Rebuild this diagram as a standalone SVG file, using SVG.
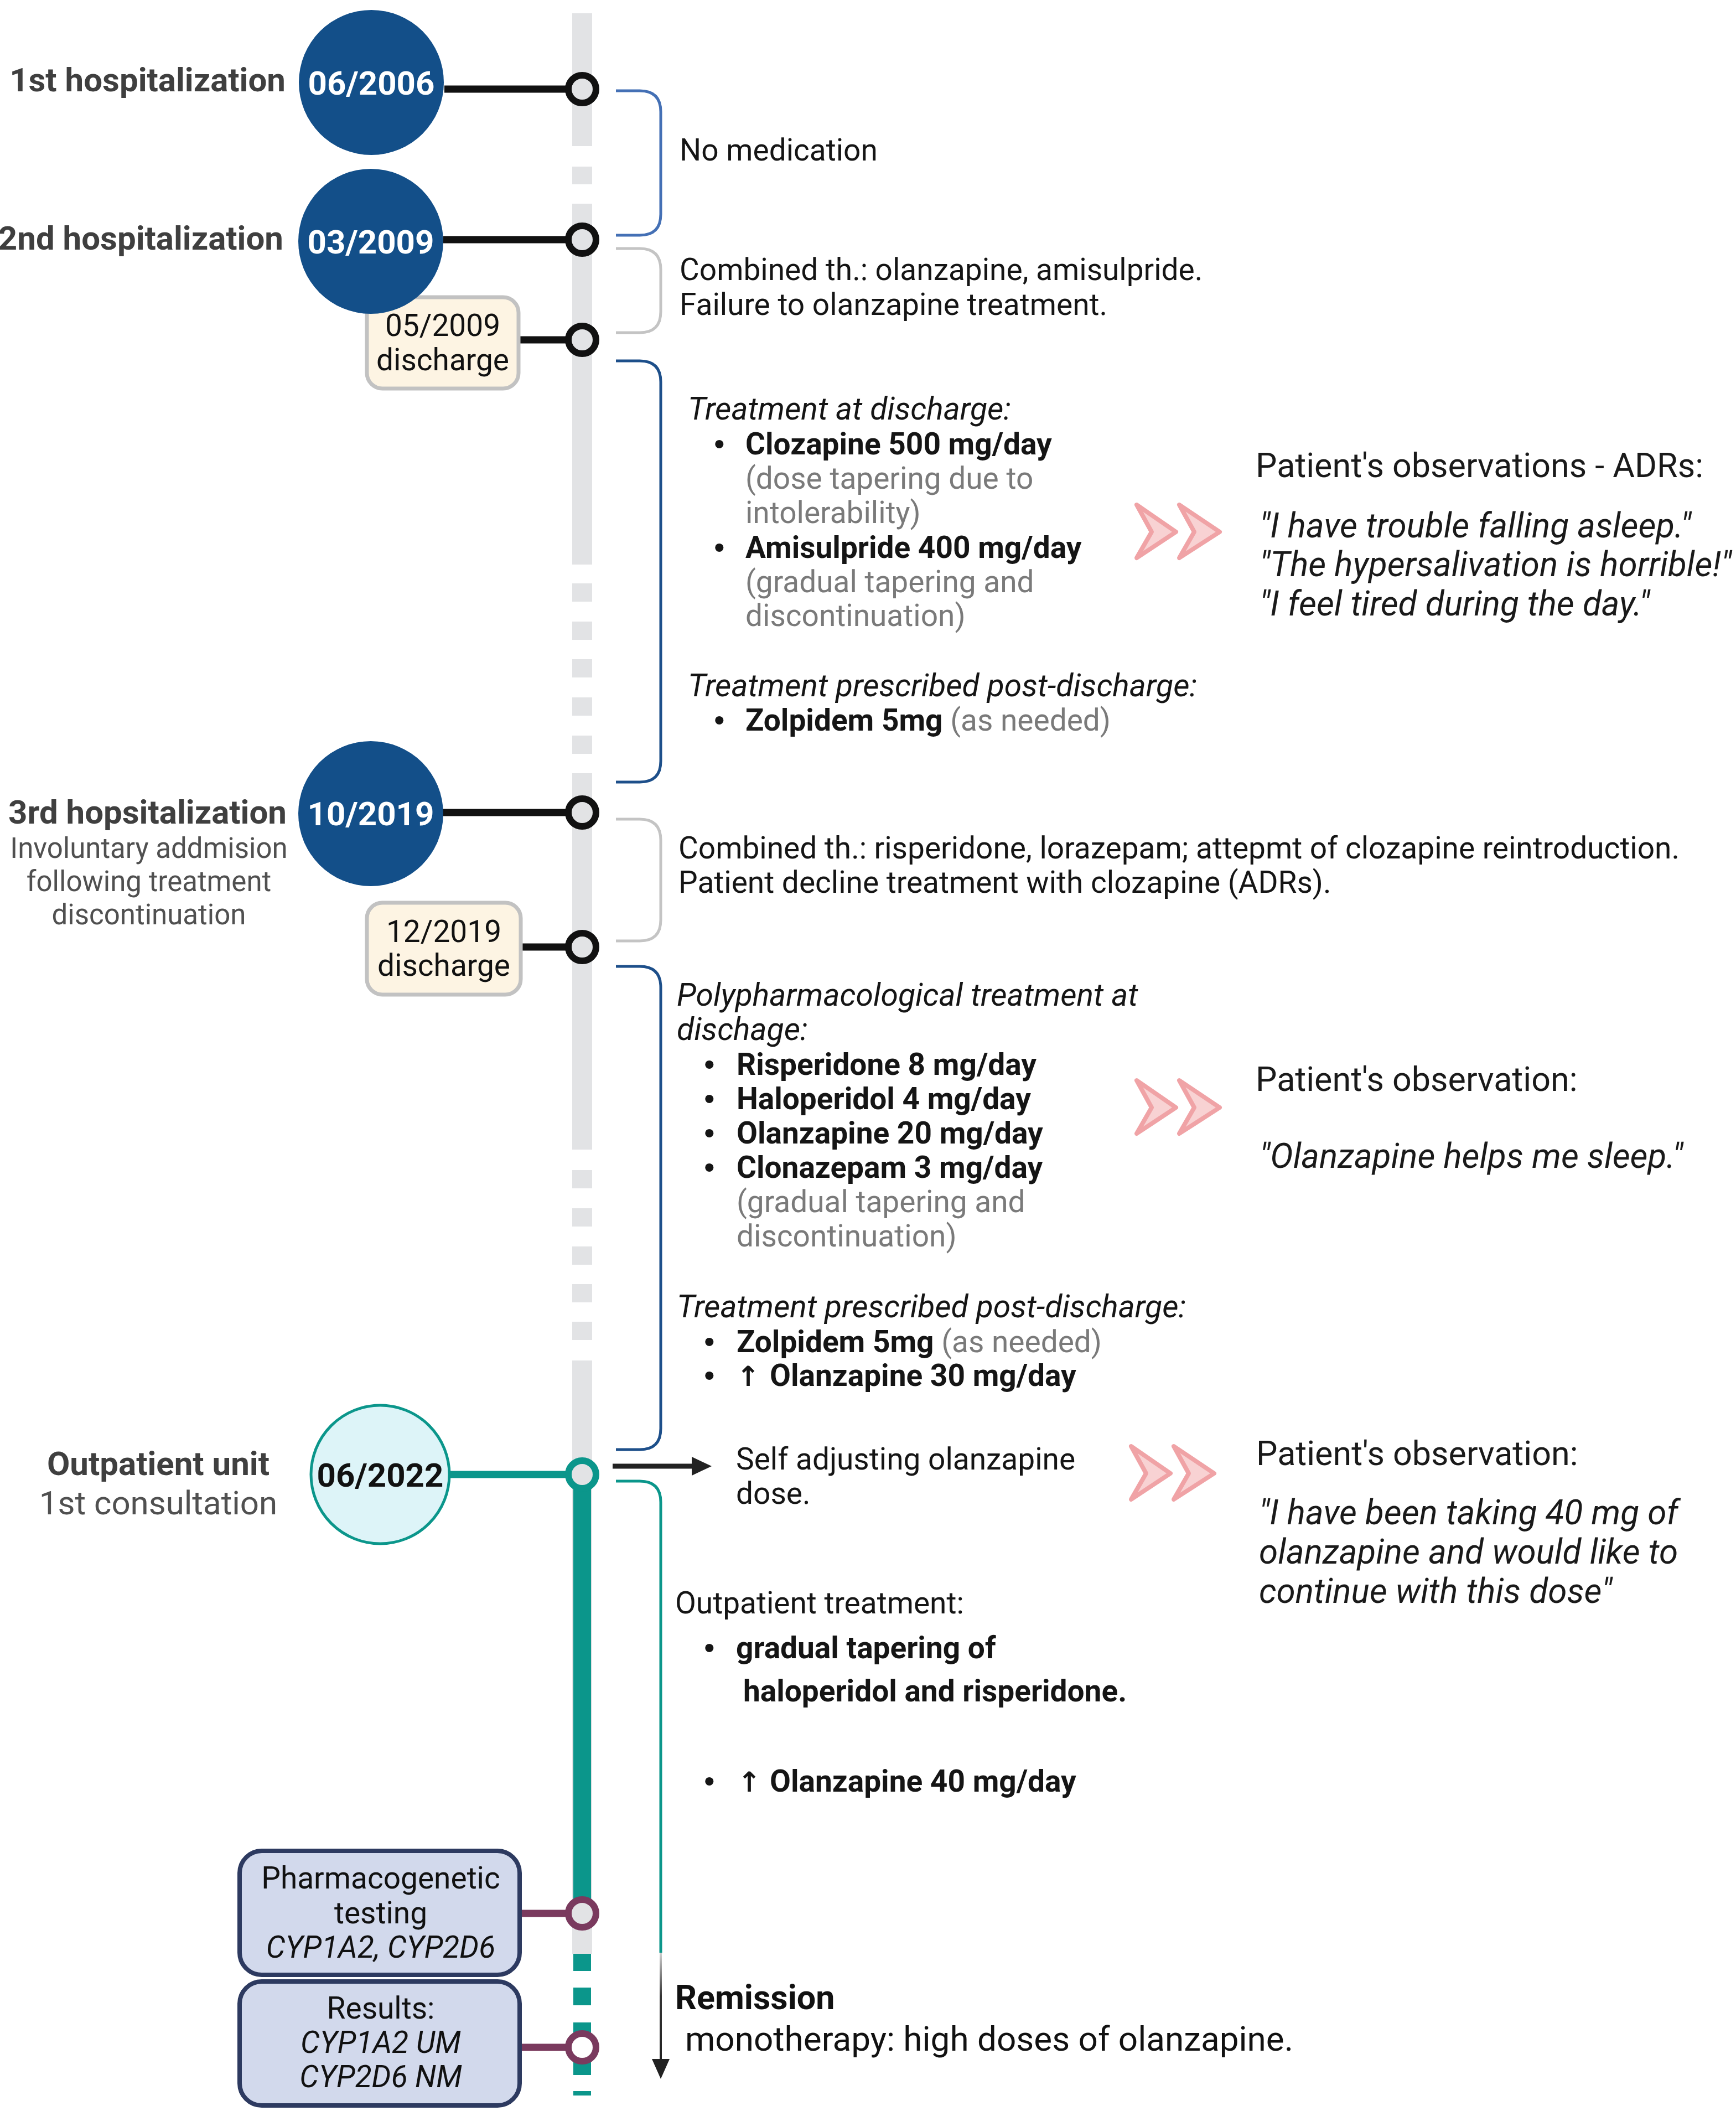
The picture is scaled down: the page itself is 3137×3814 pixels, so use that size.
<svg xmlns="http://www.w3.org/2000/svg" width="3137" height="3814" viewBox="0 0 3137 3814">
<style>
text{font-family:Roboto,"Liberation Sans","DejaVu Sans",sans-serif;}
.lbl{font-size:60px;font-weight:bold;fill:#3f3f3f;}
.sub{font-size:51px;fill:#505050;}
.date{font-size:60px;font-weight:bold;fill:#ffffff;text-anchor:middle;}
.dis{font-size:55px;fill:#111;text-anchor:middle;}
.t{font-size:55px;fill:#151515;}
.it{font-style:italic;font-size:57px;}
.b{font-weight:bold;}
.g{fill:#7a7a7a;font-weight:normal;}
.bul{font-family:"Liberation Sans",Arial,sans-serif;font-size:56px;fill:#151515;}
.ar{font-family:"DejaVu Sans",sans-serif;font-size:50px;font-weight:bold;fill:#151515;}
.obs{font-size:61px;fill:#1a1a1a;}
.q{font-size:62px;fill:#1a1a1a;font-style:italic;}
.box{font-size:55px;fill:#111;text-anchor:middle;}
.gl{fill:#e2e3e5;}
.tl{fill:#0b968b;}
.hc{stroke:#111;stroke-width:13;}
.node{fill:#e2e3e5;stroke:#111;stroke-width:12;}
.br{fill:none;stroke-width:5;}
.chev{fill:#f8d2d3;stroke:#f0a3a6;stroke-width:8;stroke-linejoin:round;}
</style>
<defs>
<g id="chev">
<path class="chev" d="M2054,-49 L2125,0 L2054,47 L2081,0 Z"/>
<path class="chev" d="M2131,-49 L2204,0 L2131,47 L2158,0 Z"/>
</g>
<linearGradient id="ag" x1="0" y1="0" x2="0" y2="1">
<stop offset="0" stop-color="#d0d0d0"/>
<stop offset="0.4" stop-color="#333"/>
<stop offset="1" stop-color="#222"/>
</linearGradient>
</defs>

<g id="timeline">
<rect class="gl" x="1034" y="24" width="36" height="240"/>
<rect class="gl" x="1034" y="301" width="36" height="32"/>
<rect class="gl" x="1034" y="368" width="36" height="652"/>
<rect class="gl" x="1034" y="1054" width="36" height="33"/>
<rect class="gl" x="1034" y="1123" width="36" height="33"/>
<rect class="gl" x="1034" y="1191" width="36" height="33"/>
<rect class="gl" x="1034" y="1260" width="36" height="33"/>
<rect class="gl" x="1034" y="1329" width="36" height="33"/>
<rect class="gl" x="1034" y="1397" width="36" height="680"/>
<rect class="gl" x="1034" y="2114" width="36" height="33"/>
<rect class="gl" x="1034" y="2183" width="36" height="33"/>
<rect class="gl" x="1034" y="2252" width="36" height="33"/>
<rect class="gl" x="1034" y="2320" width="36" height="33"/>
<rect class="gl" x="1034" y="2388" width="36" height="33"/>
<rect class="gl" x="1034" y="2458" width="36" height="1072"/>
<rect class="tl" x="1036" y="2666" width="32" height="790"/>
<rect class="tl" x="1036" y="3530" width="32" height="31"/>
<rect class="tl" x="1036" y="3591" width="32" height="32"/>
<rect class="tl" x="1036" y="3654" width="32" height="95"/>
<rect class="tl" x="1036" y="3778" width="32" height="8"/>
</g>

<g id="connectors">
<line class="hc" x1="803" y1="161" x2="1024" y2="161"/>
<line class="hc" x1="801" y1="433" x2="1024" y2="433"/>
<line class="hc" x1="937" y1="614" x2="1024" y2="614"/>
<line class="hc" x1="800" y1="1468" x2="1024" y2="1468"/>
<line class="hc" x1="941" y1="1711" x2="1024" y2="1711"/>
<line x1="812" y1="2664" x2="1024" y2="2664" stroke="#0b968b" stroke-width="13"/>
<line x1="941" y1="3457" x2="1024" y2="3457" stroke="#7a3a5e" stroke-width="13"/>
<line x1="941" y1="3699" x2="1024" y2="3699" stroke="#7a3a5e" stroke-width="13"/>
<path class="br" stroke="#4470b5" d="M1113,164 H1156 Q1194,164 1194,202 V387 Q1194,425 1156,425 H1113"/>
<path class="br" stroke="#c4c4c4" d="M1113,449 H1156 Q1194,449 1194,487 V563 Q1194,601 1156,601 H1113"/>
<path class="br" stroke="#1d4f8a" d="M1113,652 H1156 Q1194,652 1194,690 V1375 Q1194,1413 1156,1413 H1113"/>
<path class="br" stroke="#c4c4c4" d="M1113,1480 H1156 Q1194,1480 1194,1518 V1662 Q1194,1700 1156,1700 H1113"/>
<path class="br" stroke="#1d4f8a" d="M1113,1746 H1156 Q1194,1746 1194,1784 V2581 Q1194,2619 1156,2619 H1113"/>
<path class="br" stroke="#0b968b" stroke-width="4" d="M1113,2676 H1156 Q1194,2676 1194,2714 V3528"/>
<rect x="1192" y="3528" width="4" height="196" fill="url(#ag)"/>
<path d="M1178,3720 L1210,3720 L1194,3756 Z" fill="#222"/>
<line x1="1107" y1="2649" x2="1254" y2="2649" stroke="#222" stroke-width="9"/>
<path d="M1250,2632 L1286,2649 L1250,2666 Z" fill="#222"/>
</g>

<g id="node-circles">
<circle class="node" cx="1052" cy="161" r="25"/>
<circle class="node" cx="1052" cy="433" r="25"/>
<circle class="node" cx="1052" cy="614" r="25"/>
<circle class="node" cx="1052" cy="1468" r="25"/>
<circle class="node" cx="1052" cy="1711" r="25"/>
<circle cx="1052" cy="2664" r="25" fill="#e2e3e5" stroke="#0b968b" stroke-width="12"/>
<circle cx="1052" cy="3457" r="25" fill="#e2e3e5" stroke="#7a3a5e" stroke-width="12"/>
<circle cx="1052" cy="3699" r="25" fill="#ffffff" stroke="#7a3a5e" stroke-width="12"/>
</g>

<g id="discharge-2009">
<rect x="663" y="537" width="274" height="165" rx="28" fill="#fdf4e3" stroke="#c2c2c2" stroke-width="7"/>
<text class="dis" x="800" y="607">05/2009</text>
<text class="dis" x="800" y="669">discharge</text>
</g>

<g id="hosp1">
<text class="lbl" x="516" y="165" text-anchor="end">1st hospitalization</text>
<circle cx="671" cy="149" r="131" fill="#134f89"/>
<text class="date" x="671" y="171">06/2006</text>
</g>

<g id="hosp2">
<text class="lbl" x="512" y="451" text-anchor="end">2nd hospitalization</text>
<circle cx="670" cy="436" r="131" fill="#134f89"/>
<text class="date" x="670" y="458">03/2009</text>
</g>

<g id="discharge-2019">
<rect x="663" y="1631" width="278" height="166" rx="28" fill="#fdf4e3" stroke="#c2c2c2" stroke-width="7"/>
<text class="dis" x="802" y="1702">12/2019</text>
<text class="dis" x="802" y="1763">discharge</text>
</g>

<g id="hosp3">
<text class="lbl" x="518" y="1488" text-anchor="end">3rd hopsitalization</text>
<text class="sub" x="269" y="1550" text-anchor="middle">Involuntary addmision</text>
<text class="sub" x="269" y="1610" text-anchor="middle">following treatment</text>
<text class="sub" x="269" y="1670" text-anchor="middle">discontinuation</text>
<circle cx="670" cy="1470" r="131" fill="#134f89"/>
<text class="date" x="670" y="1491">10/2019</text>
</g>

<g id="outpatient">
<text class="lbl" x="286" y="2665" text-anchor="middle">Outpatient unit</text>
<text x="286" y="2736" text-anchor="middle" style="font-size:60px;fill:#505050">1st consultation</text>
<circle cx="687" cy="2664" r="125" fill="#ddf4f8" stroke="#0b968b" stroke-width="5"/>
<text class="date" x="687" y="2686" style="fill:#111">06/2022</text>
</g>

<g id="pgx-test">
<rect x="433" y="3344" width="506" height="224" rx="40" fill="#d2d9ec" stroke="#2d3a60" stroke-width="8"/>
<text class="box" x="688" y="3412">Pharmacogenetic</text>
<text class="box" x="688" y="3475">testing</text>
<text class="box" x="688" y="3537" font-style="italic">CYP1A2, CYP2D6</text>
</g>

<g id="pgx-results">
<rect x="433" y="3580" width="506" height="224" rx="40" fill="#d2d9ec" stroke="#2d3a60" stroke-width="8"/>
<text class="box" x="688" y="3647">Results:</text>
<text class="box" x="688" y="3709" font-style="italic">CYP1A2 UM</text>
<text class="box" x="688" y="3771" font-style="italic">CYP2D6 NM</text>
</g>

<g id="period1">
<text class="t" x="1228" y="290">No medication</text>
</g>

<g id="period2">
<text class="t" x="1228" y="506">Combined th.: olanzapine, amisulpride.</text>
<text class="t" x="1228" y="569">Failure to olanzapine treatment.</text>
</g>

<g id="period3">
<text class="t it" x="1243" y="758">Treatment at discharge:</text>
<text class="bul" x="1290" y="821">•</text>
<text class="t b" x="1347" y="821">Clozapine 500 mg/day</text>
<text class="t g" x="1347" y="883">(dose tapering due to</text>
<text class="t g" x="1347" y="945">intolerability)</text>
<text class="bul" x="1290" y="1008">•</text>
<text class="t b" x="1347" y="1008">Amisulpride 400 mg/day</text>
<text class="t g" x="1347" y="1070">(gradual tapering and</text>
<text class="t g" x="1347" y="1131">discontinuation)</text>
<text class="t it" x="1243" y="1258">Treatment prescribed post-discharge:</text>
<text class="bul" x="1290" y="1320">•</text>
<text class="t" x="1347" y="1320"><tspan class="b">Zolpidem 5mg</tspan> <tspan class="g">(as needed)</tspan></text>
</g>

<g id="obs1">
<use href="#chev" transform="translate(0,961)"/>
<text class="obs" x="2269" y="862">Patient's observations - ADRs:</text>
<text class="q" x="2276" y="971">"I have trouble falling asleep."</text>
<text class="q" x="2276" y="1041">"The hypersalivation is horrible!"</text>
<text class="q" x="2276" y="1112">"I feel tired during the day."</text>
</g>

<g id="period4">
<text class="t" x="1226" y="1551">Combined th.: risperidone, lorazepam; attepmt of clozapine reintroduction.</text>
<text class="t" x="1226" y="1613">Patient decline treatment with clozapine (ADRs).</text>
</g>

<g id="period5">
<text class="t it" x="1223" y="1817">Polypharmacological treatment at</text>
<text class="t it" x="1223" y="1879">dischage:</text>
<text class="bul" x="1272" y="1942">•</text>
<text class="t b" x="1331" y="1942">Risperidone 8 mg/day</text>
<text class="bul" x="1272" y="2004">•</text>
<text class="t b" x="1331" y="2004">Haloperidol 4 mg/day</text>
<text class="bul" x="1272" y="2066">•</text>
<text class="t b" x="1331" y="2066">Olanzapine 20 mg/day</text>
<text class="bul" x="1272" y="2128">•</text>
<text class="t b" x="1331" y="2128">Clonazepam 3 mg/day</text>
<text class="t g" x="1331" y="2190">(gradual tapering and</text>
<text class="t g" x="1331" y="2252">discontinuation)</text>
<text class="t it" x="1223" y="2380">Treatment prescribed post-discharge:</text>
<text class="bul" x="1272" y="2443">•</text>
<text class="t" x="1331" y="2443"><tspan class="b">Zolpidem 5mg</tspan> <tspan class="g">(as needed)</tspan></text>
<text class="bul" x="1272" y="2504">•</text>
<text class="t b" x="1331" y="2504"><tspan class="ar">↑</tspan> <tspan x="1391">Olanzapine 30 mg/day</tspan></text>
</g>

<g id="obs2">
<use href="#chev" transform="translate(0,2001)"/>
<text class="obs" x="2269" y="1971">Patient's observation:</text>
<text class="q" x="2276" y="2110">"Olanzapine helps me sleep."</text>
</g>

<g id="self-adjust">
<text class="t" x="1330" y="2655">Self adjusting olanzapine</text>
<text class="t" x="1330" y="2717">dose.</text>
</g>

<g id="obs3">
<use href="#chev" transform="translate(-10,2662)"/>
<text class="obs" x="2270" y="2647">Patient's observation:</text>
<text class="q" x="2275" y="2754">"I have been taking 40 mg of</text>
<text class="q" x="2275" y="2825">olanzapine and would like to</text>
<text class="q" x="2275" y="2896">continue with this dose"</text>
</g>

<g id="period6">
<text class="t" x="1220" y="2915">Outpatient treatment:</text>
<text class="bul" x="1272" y="2996">•</text>
<text class="t b" x="1330" y="2996">gradual tapering of</text>
<text class="t b" x="1343" y="3074">haloperidol and risperidone.</text>
<text class="bul" x="1272" y="3237">•</text>
<text class="t b" x="1333" y="3237"><tspan class="ar">↑</tspan> <tspan x="1391">Olanzapine 40 mg/day</tspan></text>
</g>

<g id="remission">
<text x="1220" y="3630" style="font-size:61px;font-weight:bold;fill:#111">Remission</text>
<text x="1238" y="3705" style="font-size:62px;fill:#111">monotherapy: high doses of olanzapine.</text>
</g>
</svg>
